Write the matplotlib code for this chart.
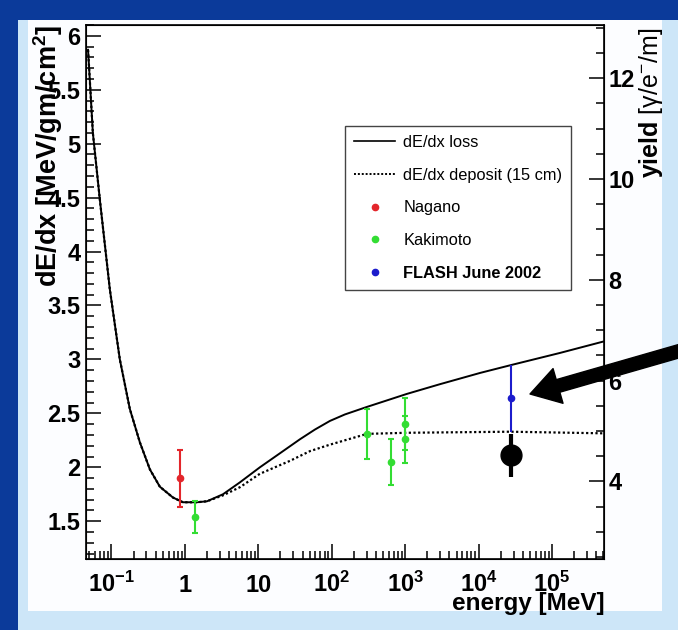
import matplotlib
matplotlib.use("Agg")
import matplotlib.pyplot as plt
from matplotlib.lines import Line2D
from matplotlib.patches import Rectangle
from matplotlib.ticker import FixedLocator, MultipleLocator, LogLocator, NullFormatter

plt.rcParams['font.family'] = ['Liberation Sans', 'DejaVu Sans']
plt.rcParams['mathtext.fontset'] = 'custom'
plt.rcParams['mathtext.rm'] = 'Liberation Sans'
plt.rcParams['mathtext.it'] = 'Liberation Sans:italic'
plt.rcParams['mathtext.bf'] = 'Liberation Sans:bold'
plt.rcParams['mathtext.default'] = 'regular'

# dE/dx loss curve [MeV / g/cm^2] vs electron energy [MeV]
loss_energy = [0.048, 0.0558, 0.0695, 0.095, 0.130, 0.178, 0.244, 0.334, 0.456, 0.687,
               0.94, 1.46, 2.0, 3.3, 5.6, 10.5, 19.7, 36.9, 59, 94.5, 151, 302, 1050,
               2960, 1.05e4, 2.85e4, 1.28e5, 4.95e5]
loss_dedx = [5.87, 5.10, 4.48, 3.65, 3.00, 2.54, 2.23, 1.98, 1.82, 1.72,
             1.676, 1.676, 1.685, 1.75, 1.86, 2.00, 2.13, 2.26, 2.35, 2.43, 2.49, 2.56, 2.68,
             2.77, 2.875, 2.95, 3.06, 3.165]

# energy deposited in 15 cm
dep_energy = [0.048, 0.0558, 0.0695, 0.095, 0.130, 0.178, 0.244, 0.334, 0.456, 0.687,
              0.94, 1.46, 2.0, 3.3, 5.6, 10.5, 27, 50.5, 94.5, 302, 1050, 2.7e4, 4.95e5]
dep_dedx = [5.87, 5.10, 4.48, 3.65, 3.00, 2.54, 2.23, 1.98, 1.82, 1.72,
            1.676, 1.676, 1.685, 1.74, 1.815, 1.94, 2.06, 2.15, 2.21, 2.31, 2.32, 2.33, 2.315]

nagano_e = [0.85]
nagano_v = [1.90]
nagano_err = [0.265]

kakimoto_e = [1.37, 300, 650, 1000, 1000]
kakimoto_v = [1.54, 2.31, 2.05, 2.40, 2.26]
kakimoto_err = [0.15, 0.23, 0.21, 0.24, 0.22]

flash_e = [2.75e4]
flash_v = [2.64]
flash_err = [0.31]

flash_new_e = [2.75e4]
flash_new_v = [2.11]
flash_new_err = [0.20]

# photon yield per unit dE/dx (right axis)
yield_scale = 2.14

x_ticks = [1e-1, 1, 10, 1e2, 1e3, 1e4, 1e5]
x_labels = ['10$^{-1}$', '1', '10', '10$^{2}$', '10$^{3}$', '10$^{4}$', '10$^{5}$']
y_ticks = [1.5, 2, 2.5, 3, 3.5, 4, 4.5, 5, 5.5, 6]
y_labels = ['1.5', '2', '2.5', '3', '3.5', '4', '4.5', '5', '5.5', '6']
yield_ticks = [4, 6, 8, 10, 12]
yield_labels = ['4', '6', '8', '10', '12']

W, H = 678, 630
fig = plt.figure(figsize=(W / 100, H / 100), dpi=100, facecolor='#0b3a9a')
fig.patches.append(Rectangle((18 / W, 0), 1, 1 - 20 / H, transform=fig.transFigure,
                             facecolor='#cde6f8', edgecolor='none', zorder=-10))
fig.patches.append(Rectangle((28 / W, 1 - 611 / H), (662 - 28) / W, (611 - 20) / H,
                             transform=fig.transFigure, facecolor='#fcfdff',
                             edgecolor='none', zorder=-9))

ax = fig.add_axes([86 / W, 1 - 559 / H, 518 / W, 534 / H])
ax.set_facecolor('white')

ax.plot(loss_energy, loss_dedx, color='black', lw=1.4, zorder=3)
ax.plot(dep_energy, dep_dedx, color='black', lw=1.6, ls=(0, (1, 1.1)), zorder=3)

ax.errorbar(nagano_e, nagano_v, yerr=nagano_err, fmt='o', color='#e3262b', ms=4.5,
            lw=1.5, capsize=2.5, capthick=1.5, zorder=4)
ax.errorbar(kakimoto_e, kakimoto_v, yerr=kakimoto_err, fmt='o', color='#33dd33', ms=4.5,
            lw=1.5, capsize=2.5, capthick=1.5, zorder=4)
ax.errorbar(flash_e, flash_v, yerr=flash_err, fmt='o', color='#1c1ccc', ms=4.5,
            lw=1.5, capsize=0, zorder=4)
ax.errorbar(flash_new_e, flash_new_v, yerr=flash_new_err, fmt='o', color='black', ms=15,
            lw=3, capsize=0, zorder=5)

ax.set_xscale('log')
ax.set_xlim(0.045, 5.1e5)
ax.set_ylim(1.15, 6.1)

ax.xaxis.set_major_locator(FixedLocator(x_ticks))
ax.set_xticklabels(x_labels)
ax.xaxis.set_minor_locator(LogLocator(base=10, subs=range(2, 10), numticks=30))
ax.xaxis.set_minor_formatter(NullFormatter())
ax.yaxis.set_major_locator(FixedLocator(y_ticks))
ax.set_yticklabels(y_labels)
ax.yaxis.set_minor_locator(MultipleLocator(0.1))

ax.tick_params(which='both', direction='in', top=False, right=False, width=1.1,
               labelsize=17)
ax.tick_params(which='major', length=11)
ax.tick_params(which='minor', length=5.5)
ax.tick_params(axis='y', pad=4)
ax.tick_params(axis='x', pad=24)
for lbl in ax.get_xticklabels():
    lbl.set_fontweight('bold')
    lbl.set_verticalalignment('baseline')
for lbl in ax.get_yticklabels():
    lbl.set_fontweight('bold')
for sp in ax.spines.values():
    sp.set_linewidth(1.2)

ax2 = ax.twinx()
ax2.set_ylim(1.15 * yield_scale, 6.1 * yield_scale)
ax2.yaxis.set_major_locator(FixedLocator(yield_ticks))
ax2.set_yticklabels(yield_labels)
ax2.yaxis.set_minor_locator(MultipleLocator(0.5))
ax2.tick_params(which='both', direction='in', width=1.1, labelsize=17, pad=3)
ax2.tick_params(which='major', length=11)
ax2.tick_params(which='minor', length=5.5)
for lbl in ax2.get_yticklabels():
    lbl.set_fontweight('bold')

fig.text(48 / W, 1 - 25 / H, 'dE/dx [MeV/gm/cm$^{2}$]', rotation=90, ha='center',
         va='top', fontsize=19.5, fontweight='bold')
fig.text(651 / W, 1 - 178 / H, r'$\mathbf{yield}$ [γ/e$^{-}$/m]', rotation=90,
         ha='center', va='bottom', fontsize=18)
fig.text(605 / W, 1 - 610 / H, 'energy [MeV]', ha='right', va='baseline',
         fontsize=17.5, fontweight='bold')

handles = [
    Line2D([], [], color='black', lw=1.2),
    Line2D([], [], color='black', lw=1.4, ls=(0, (1, 1))),
    Line2D([], [], color='#e3262b', marker='o', ms=4.5, ls='none'),
    Line2D([], [], color='#33dd33', marker='o', ms=4.5, ls='none'),
    Line2D([], [], color='#1c1ccc', marker='o', ms=4.5, ls='none'),
]
labels = ['dE/dx loss', 'dE/dx deposit (15 cm)', 'Nagano', 'Kakimoto', 'FLASH June 2002']
leg = ax.legend(handles, labels, loc='upper left', bbox_to_anchor=(345 / W, 1 - 126 / H),
                bbox_transform=fig.transFigure, borderaxespad=0, fancybox=False,
                edgecolor='#444444', framealpha=1, fontsize=11.8, handlelength=2.5,
                handletextpad=0.5, labelspacing=1.08, borderpad=0.55)
leg.get_frame().set_linewidth(1.0)
leg.get_texts()[4].set_fontweight('bold')

# arrow pointing at the FLASH measurement
ax.annotate('', xy=(530, H - 394), xytext=(690, H - 348), xycoords='figure pixels',
            textcoords='figure pixels', annotation_clip=False,
            arrowprops=dict(arrowstyle='simple,head_length=1.05,head_width=1.3,tail_width=0.47',
                            mutation_scale=20, color='black', shrinkA=0, shrinkB=0))

fig.savefig('out.png', dpi=100, facecolor=fig.get_facecolor())
